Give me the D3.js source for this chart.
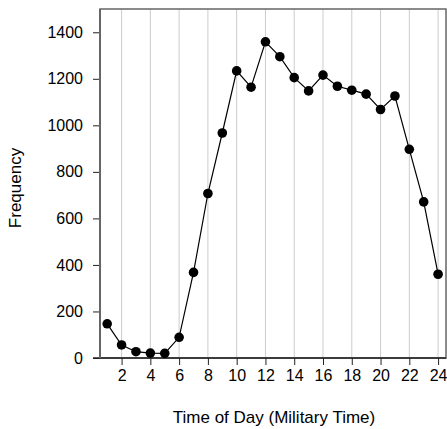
<!DOCTYPE html>
<meta charset="utf-8">
<script src="https://d3js.org/d3.v7.min.js"></script>
<style>
  body { margin: 0; background: #fff; }
  text { font-family: Arial, "Liberation Sans", sans-serif; }
</style>
<body>
<svg id="chart" width="447" height="429"></svg>
<script>
// hour of day and count of records per hour
var hours = [1, 2, 3, 4, 5, 6, 7, 8, 9, 10, 11, 12, 13, 14, 15, 16, 17, 18, 19, 20, 21, 22, 23, 24];
var counts = [147, 56, 27, 21, 20, 89, 368, 707, 967, 1234, 1164, 1359, 1295, 1205, 1148, 1216, 1168, 1151, 1134, 1068, 1126, 897, 671, 360];
var xTicks = [2, 4, 6, 8, 10, 12, 14, 16, 18, 20, 22, 24];
var yTicks = [0, 200, 400, 600, 800, 1000, 1200, 1400];

var svg = d3.select("#chart");
var margin = {top: 9, right: 1, bottom: 71, left: 100};
var width = 447 - margin.left - margin.right;
var height = 429 - margin.top - margin.bottom;

var x = d3.scaleLinear().domain([0.5, 24.55]).range([0, width]);
var y = d3.scaleLinear().domain([0, 1500]).range([height, 0]);

var g = svg.append("g").attr("transform", "translate(" + margin.left + "," + margin.top + ")");

// vertical grid
g.selectAll(".grid")
  .data(xTicks)
  .enter().append("line")
  .attr("x1", function(d) { return x(d); })
  .attr("x2", function(d) { return x(d); })
  .attr("y1", 0)
  .attr("y2", height)
  .attr("stroke", "#cccccc")
  .attr("stroke-width", 1);

// frame
g.append("rect")
  .attr("x", 0).attr("y", 0)
  .attr("width", width).attr("height", height)
  .attr("fill", "none")
  .attr("stroke", "#666")
  .attr("stroke-width", 1.5);

// axes
var xAxis = g.append("g")
  .attr("transform", "translate(0," + height + ")")
  .call(d3.axisBottom(x).tickValues(xTicks).tickSize(7).tickPadding(5));
var yAxis = g.append("g")
  .call(d3.axisLeft(y).tickValues(yTicks).tickFormat(d3.format("d")).tickSize(7).tickPadding(10));

[xAxis, yAxis].forEach(function(a) {
  a.select(".domain").remove();
  a.selectAll("line").attr("stroke", "#222");
  a.selectAll("text").attr("font-size", 16).attr("fill", "#000")
    .style("font-family", "Arial, 'Liberation Sans', sans-serif");
});

// bottom and left axis lines
g.append("line").attr("x1", -7).attr("x2", width).attr("y1", height).attr("y2", height)
  .attr("stroke", "#222").attr("stroke-width", 1.5);
g.append("line").attr("x1", 0).attr("x2", 0).attr("y1", 0).attr("y2", height)
  .attr("stroke", "#666").attr("stroke-width", 2);

// line and points
var line = d3.line()
  .x(function(d, i) { return x(hours[i]); })
  .y(function(d) { return y(d); });

g.append("path")
  .datum(counts)
  .attr("d", line)
  .attr("fill", "none")
  .attr("stroke", "#000")
  .attr("stroke-width", 1.2);

g.selectAll(".dot")
  .data(counts)
  .enter().append("circle")
  .attr("cx", function(d, i) { return x(hours[i]); })
  .attr("cy", function(d) { return y(d); })
  .attr("r", 4.8)
  .attr("fill", "#000");

// axis titles
svg.append("text")
  .attr("x", 274)
  .attr("y", 423)
  .attr("text-anchor", "middle")
  .attr("font-size", 17)
  .text("Time of Day (Military Time)");

svg.append("text")
  .attr("transform", "translate(21,188) rotate(-90)")
  .attr("text-anchor", "middle")
  .attr("font-size", 17)
  .text("Frequency");
</script>
</body>
